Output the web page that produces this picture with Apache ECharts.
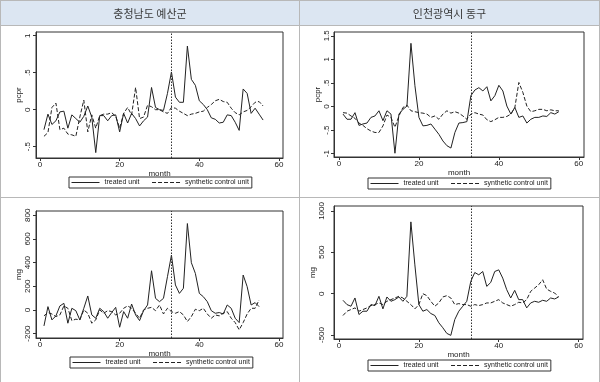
<!DOCTYPE html>
<html><head><meta charset="utf-8">
<script src="https://cdn.jsdelivr.net/npm/echarts@6/dist/echarts.min.js"></script>
<style>html,body{margin:0;padding:0;background:#fff}#c{width:600px;height:382px}</style>
</head><body><div id="c"></div>
<script>
const headerTitles = ['충청남도 예산군', '인천광역시 동구'];
const seriesNames = ['treated unit', 'synthetic control unit'];
const treatMonth = 33;
const xTicks = [0, 20, 40, 60];
const xTickLabels = ['0', '20', '40', '60'];

const months56 = [1,2,3,4,5,6,7,8,9,10,11,12,13,14,15,16,17,18,19,20,21,22,23,24,25,26,27,28,29,30,31,32,33,34,35,36,37,38,39,40,41,42,43,44,45,46,47,48,49,50,51,52,53,54,55,56];
const months55 = [1,2,3,4,5,6,7,8,9,10,11,12,13,14,15,16,17,18,19,20,21,22,23,24,25,26,27,28,29,30,31,32,33,34,35,36,37,38,39,40,41,42,43,44,45,46,47,48,49,50,51,52,53,54,55];

// 충청남도 예산군 - pcpr
const yesanPcprTreated = [-0.27,-0.06,-0.2,-0.15,-0.03,-0.02,-0.25,-0.07,-0.12,-0.17,-0.09,0.05,-0.1,-0.58,-0.08,-0.08,-0.15,-0.08,-0.07,-0.3,-0.05,-0.18,-0.05,-0.12,-0.22,-0.15,-0.1,0.3,0.03,0.0,-0.01,0.22,0.51,0.17,0.1,0.1,0.86,0.41,0.33,0.12,0.07,0.0,-0.11,-0.13,-0.18,-0.17,-0.07,-0.08,-0.17,-0.28,0.28,0.22,-0.05,0.02,-0.06,-0.14];
const yesanPcprSynth = [-0.36,-0.31,0.03,0.09,-0.27,-0.25,-0.33,-0.34,-0.36,-0.1,0.13,-0.3,-0.07,-0.25,-0.08,-0.06,-0.06,-0.04,-0.09,-0.25,-0.05,0.03,-0.07,0.3,-0.12,-0.1,0.06,0.04,0.0,0.0,-0.03,-0.05,0.03,0.02,-0.02,-0.05,-0.08,-0.06,-0.05,-0.03,-0.02,0.03,0.07,0.12,0.14,0.11,0.1,0.02,-0.04,-0.07,-0.03,-0.01,0.04,0.1,0.11,0.05];

// 인천광역시 동구 - pcpr
const dongguPcprTreated = [-0.16,-0.27,-0.27,-0.13,-0.4,-0.37,-0.35,-0.23,-0.2,-0.09,-0.3,-0.09,-0.16,-0.99,-0.16,-0.06,0.01,1.34,0.44,-0.23,-0.41,-0.4,-0.37,-0.48,-0.59,-0.73,-0.83,-0.88,-0.55,-0.35,-0.34,-0.32,0.23,0.35,0.4,0.33,0.42,0.12,0.23,0.45,0.33,0.01,-0.16,-0.02,-0.23,-0.2,-0.35,-0.27,-0.23,-0.23,-0.2,-0.21,-0.13,-0.16,-0.11];
const dongguPcprSynth = [-0.13,-0.14,-0.2,-0.25,-0.35,-0.4,-0.47,-0.52,-0.55,-0.55,-0.41,-0.18,-0.23,-0.44,-0.2,-0.02,0.03,-0.09,-0.11,-0.13,-0.14,-0.16,-0.23,-0.2,-0.27,-0.16,-0.09,-0.14,-0.11,-0.14,-0.2,-0.27,-0.16,-0.13,-0.16,-0.18,-0.28,-0.32,-0.28,-0.23,-0.23,-0.21,-0.16,-0.02,0.51,0.3,0.01,-0.11,-0.09,-0.06,-0.06,-0.09,-0.07,-0.09,-0.09];

// 충청남도 예산군 - mg
const yesanMgTreated = [-135,28,-84,-50,34,56,-112,14,-6,-84,14,118,-42,-70,14,-14,-70,-22,22,-146,-14,-70,50,-42,-90,-6,42,331,98,70,98,281,463,211,140,183,730,399,309,140,112,70,-6,-28,-22,-34,42,14,-70,-107,295,197,42,62,28];
const yesanMgSynth = [-50,-22,-34,-56,-42,34,14,-90,-78,-84,0,-28,-112,-84,0,-28,-6,-14,-42,-28,14,34,14,-28,-70,0,14,22,-6,42,-34,14,-14,-28,-14,-42,-98,-56,6,-6,14,-34,-70,-42,-50,-28,-14,-70,-107,-168,-107,-34,14,14,84];

// 인천광역시 동구 - mg
const dongguMgTreated = [-80,-132,-152,-52,-252,-212,-212,-132,-144,-32,-184,-40,-92,-72,-40,-92,-32,868,348,-132,-212,-192,-240,-264,-352,-412,-480,-504,-312,-212,-152,-92,148,256,228,268,88,136,268,288,188,48,-52,40,-72,-72,-172,-112,-92,-104,-80,-92,-52,-64,-40];
const dongguMgSynth = [-264,-212,-192,-172,-212,-192,-172,-144,-132,-112,-132,-92,-72,-52,-32,-52,-92,-132,-184,-132,0,-24,-92,-152,-112,-40,-24,-52,-132,-120,-132,-132,-152,-132,-144,-132,-112,-112,-92,-72,-112,-132,-152,-132,-104,-112,-72,28,68,108,168,56,28,8,-40];

const yTicksPcprA = [-0.5, 0, 0.5, 1];
const yLabelsPcprA = ['-.5', '0', '.5', '1'];
const yTicksPcprB = [-1, -0.5, 0, 0.5, 1, 1.5];
const yLabelsPcprB = ['-1', '-.5', '0', '.5', '1', '1.5'];
const yTicksMgA = [-200, 0, 200, 400, 600, 800];
const yLabelsMgA = ['-200', '0', '200', '400', '600', '800'];
const yTicksMgB = [-500, 0, 500, 1000];
const yLabelsMgB = ['-500', '0', '500', '1000'];

const FONT = 'Liberation Sans, Arial, sans-serif';
const INK = '#222';

const panels = [
  {grid:{left:36,top:32,width:247,height:126}, xmin:-1, xmax:61, ymin:-0.653, ymax:1.05,
   yTicks:yTicksPcprA, yLabels:yLabelsPcprA, yName:'pcpr', months:months56, t:yesanPcprTreated, s:yesanPcprSynth,
   legend:{left:69, top:177}, labelMargin:4, nameGap:9},
  {grid:{left:334,top:32,width:250,height:125}, xmin:-1.25, xmax:61.3, ymin:-1.07, ymax:1.58,
   yTicks:yTicksPcprB, yLabels:yLabelsPcprB, yName:'pcpr', months:months55, t:dongguPcprTreated, s:dongguPcprSynth,
   legend:{left:368, top:178}, labelMargin:3, nameGap:8},
  {grid:{left:36,top:211,width:247,height:127}, xmin:-1, xmax:61, ymin:-237, ymax:836,
   yTicks:yTicksMgA, yLabels:yLabelsMgA, yName:'mg', months:months55, t:yesanMgTreated, s:yesanMgSynth,
   legend:{left:70, top:357}, labelMargin:4, nameGap:12},
  {grid:{left:334,top:206,width:249,height:133}, xmin:-1.25, xmax:61.1, ymin:-548, ymax:1060,
   yTicks:yTicksMgB, yLabels:yLabelsMgB, yName:'mg', months:months55, t:dongguMgTreated, s:dongguMgSynth,
   legend:{left:368, top:360}, labelMargin:8, nameGap:12}
];

const grids = [], xAxes = [], yAxes = [], series = [], legends = [];
panels.forEach((p, i) => {
  grids.push(Object.assign({show:true, borderColor:'#333', borderWidth:1, outerBoundsMode:'none', containLabel:false}, p.grid));
  xAxes.push({
    gridIndex:i, type:'value', min:p.xmin, max:p.xmax,
    axisLine:{show:true, onZero:false, lineStyle:{color:'#333', width:1}},
    axisTick:{show:true, inside:false, length:3, customValues:xTicks, lineStyle:{color:'#333'}},
    axisLabel:{show:true, customValues:xTicks, margin:3, fontSize:8, color:INK, fontFamily:FONT,
      formatter:(v)=>{const k=xTicks.indexOf(v);return k>=0?xTickLabels[k]:'';}},
    splitLine:{show:false},
    name:'month', nameLocation:'middle', nameGap:8, nameTextStyle:{fontSize:8, color:INK, fontFamily:FONT}
  });
  yAxes.push({
    gridIndex:i, type:'value', min:p.ymin, max:p.ymax,
    axisLine:{show:true, onZero:false, lineStyle:{color:'#333', width:1}},
    axisTick:{show:true, inside:false, length:3, customValues:p.yTicks, lineStyle:{color:'#333'}},
    axisLabel:{show:true, customValues:p.yTicks, rotate:90, margin:p.labelMargin, fontSize:8, color:INK, fontFamily:FONT,
      formatter:(v)=>{const k=p.yTicks.indexOf(v);return k>=0?p.yLabels[k]:'';}},
    splitLine:{show:false},
    name:p.yName, nameLocation:'middle', nameRotate:90, nameGap:p.nameGap, nameTextStyle:{fontSize:8, color:INK, fontFamily:FONT}
  });
  series.push({
    type:'line', name:seriesNames[0], xAxisIndex:i, yAxisIndex:i, symbol:'none', silent:true,
    data:p.months.map((m,k)=>[m, p.t[k]]),
    lineStyle:{color:INK, width:1}, itemStyle:{color:INK},
    markLine:{silent:true, symbol:'none', label:{show:false}, animation:false,
      lineStyle:{type:[1.5,1.5], color:'#333', width:1}, data:[{xAxis:treatMonth}]}
  });
  series.push({
    type:'line', name:seriesNames[1], xAxisIndex:i, yAxisIndex:i, symbol:'none', silent:true,
    data:p.months.map((m,k)=>[m, p.s[k]]),
    lineStyle:{color:INK, width:1, type:[4,2]}, itemStyle:{color:INK}
  });
  legends.push({
    left:p.legend.left, top:p.legend.top, orient:'horizontal', selectedMode:false,
    itemWidth:28, itemHeight:8, itemGap:12, padding:[2,3,2,2],
    borderColor:'#333', borderWidth:1, backgroundColor:'#fff',
    itemStyle:{color:'rgba(0,0,0,0)', borderColor:'rgba(0,0,0,0)', borderWidth:0, opacity:0},
    lineStyle:{width:1},
    textStyle:{fontSize:7, color:INK, fontFamily:FONT},
    data:seriesNames
  });
});

const LINE = '#b8b8b8';
const graphic = [
  {type:'rect', z:-10, shape:{x:0, y:0, width:600, height:25.5}, style:{fill:'#dce6f2'}},
  {type:'line', shape:{x1:0, y1:0.5, x2:600, y2:0.5}, style:{stroke:LINE, lineWidth:1}},
  {type:'line', shape:{x1:0, y1:25.5, x2:600, y2:25.5}, style:{stroke:LINE, lineWidth:1}},
  {type:'line', shape:{x1:0, y1:197.5, x2:600, y2:197.5}, style:{stroke:LINE, lineWidth:1}},
  {type:'line', shape:{x1:0.5, y1:0, x2:0.5, y2:382}, style:{stroke:LINE, lineWidth:1}},
  {type:'line', shape:{x1:299.5, y1:0, x2:299.5, y2:382}, style:{stroke:LINE, lineWidth:1}},
  {type:'line', shape:{x1:599.5, y1:0, x2:599.5, y2:382}, style:{stroke:LINE, lineWidth:1}},
  {type:'text', x:150, y:13.5, style:{text:headerTitles[0], fontSize:11, fontFamily:'Noto Sans CJK KR', fill:'#3a3a3a', align:'center', verticalAlign:'middle'}},
  {type:'text', x:449.5, y:13.5, style:{text:headerTitles[1], fontSize:11, fontFamily:'Noto Sans CJK KR', fill:'#3a3a3a', align:'center', verticalAlign:'middle'}}
];

const chart = echarts.init(document.getElementById('c'), null, {renderer:'canvas'});
chart.setOption({
  animation:false,
  backgroundColor:'#fff',
  graphic:graphic,
  grid:grids, xAxis:xAxes, yAxis:yAxes, series:series, legend:legends
});
</script></body></html>
